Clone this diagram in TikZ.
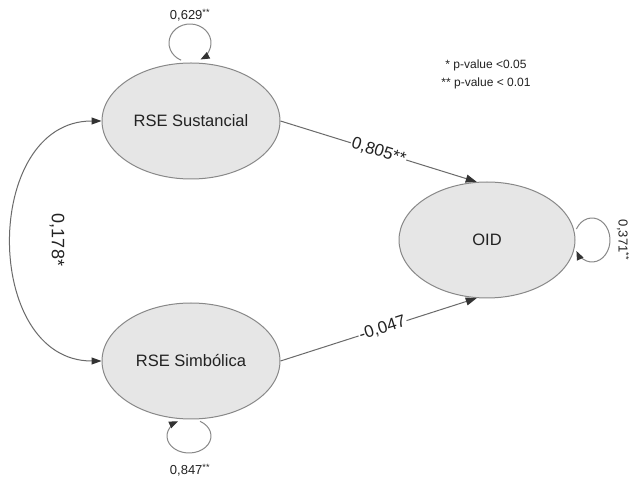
\documentclass[tikz,border=0pt]{standalone}
\usepackage{fontspec}
\setmainfont{Liberation Sans}
\usetikzlibrary{shapes.geometric,arrows.meta}
\definecolor{nodefill}{HTML}{E6E6E6}
\definecolor{nodeline}{HTML}{888888}
\definecolor{edgeline}{HTML}{6A6A6A}
\definecolor{tipcol}{HTML}{333333}
\definecolor{txt}{HTML}{222222}
\tikzset{
  latent/.style={ellipse, draw=nodeline, fill=nodefill, line width=1pt,
    minimum width=178pt, minimum height=116pt, inner sep=0pt,
    font=\fontsize{16.5}{18}\selectfont, text=txt},
  path/.style={draw=edgeline, line width=1pt,
    -{Triangle[length=11pt,width=8pt,fill=tipcol,color=tipcol]}},
  covpath/.style={draw=edgeline, line width=1pt,
    {Triangle[length=10pt,width=7pt,fill=tipcol,color=tipcol]}-{Triangle[length=10pt,width=7pt,fill=tipcol,color=tipcol]}},
  looppath/.style={draw=nodeline, line width=1pt,
    -{Triangle[length=9pt,width=7pt,fill=tipcol,color=tipcol]}},
  coeflab/.style={font=\fontsize{17}{19}\selectfont, text=txt, fill=white, inner sep=1pt},
  looplab/.style={font=\fontsize{13}{15}\selectfont, text=txt, inner sep=0pt},
  legend/.style={font=\fontsize{12}{18}\selectfont, text=txt, align=center, inner sep=0pt}
}
\begin{document}
\begin{tikzpicture}[x=1pt,y=1pt]
\useasboundingbox (0,0) rectangle (640,490);
\fill[white] (0,0) rectangle (640,490);

\node[latent] (sus) at (191,369) {RSE Sustancial};
\node[latent] (sim) at (191,129) {RSE Simbólica};
\node[latent, minimum width=176pt] (oid) at (487,250) {OID};

% regression paths
\draw[path] (sus.east) -- node[coeflab, sloped, pos=0.5] (l1) {0,805**} (oid.100);
\draw[path] (sim.east) -- node[coeflab, sloped, pos=0.52] (l2) {-0,047} (oid.260);

% covariance
\draw[covpath] (sus.west) .. controls (-18,369) and (-18,129) .. (sim.west);
\node[font=\fontsize{18}{20}\selectfont, text=txt, rotate=-90] (l3) at (57,250) {0,178*};

% self loops
\draw[looppath] (190,447) ++(-115:21 and 19) arc[start angle=-115, end angle=-420, x radius=21, y radius=19];
\draw[looppath] (189,54) ++(60:22 and 17) arc[start angle=60, end angle=-240, x radius=22, y radius=17];
\draw[looppath] (592,250) ++(150:18 and 22) arc[start angle=150, end angle=-150, x radius=18, y radius=22];

\node[looplab] (v1) at (190,475) {0,629\textsuperscript{**}};
\node[looplab] (v2) at (190,20) {0,847\textsuperscript{**}};
\node[looplab, rotate=-90] (v3) at (623,250) {0,371\textsuperscript{**}};

% legend
\node[legend] (leg) at (486,416) {* p-value <0.05\\** p-value < 0.01};
\end{tikzpicture}
\end{document}
